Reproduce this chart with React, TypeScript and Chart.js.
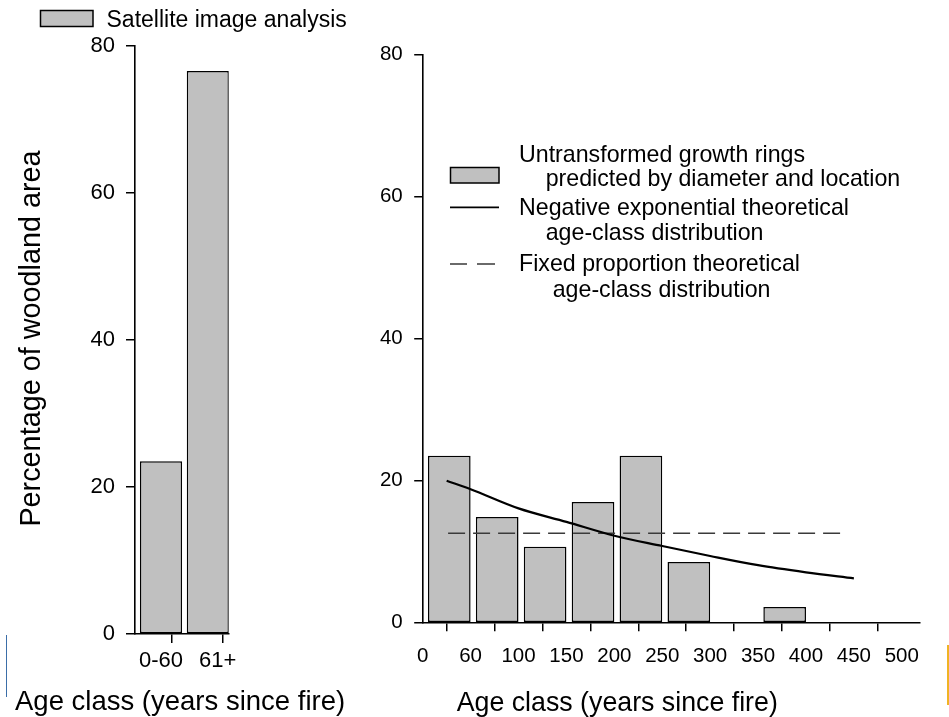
import React, { useEffect, useRef } from 'react';
import { Chart, registerables } from 'chart.js';

Chart.register(...registerables);

const FONT = "'Liberation Sans', Arial, Helvetica, sans-serif";
const BAR_FILL = '#c0c0c0';

// ---------- Left panel data ----------
const leftCategories = ['0-60', '61+'];
const leftValues = [23.5, 76.6];
const leftLegend = 'Satellite image analysis';

// ---------- Right panel data ----------
const rightTickLabels = ['0', '60', '100', '150', '200', '250', '300', '350', '400', '450', '500'];
const rightBarValues = [23.5, 14.9, 10.7, 17.0, 23.5, 8.55, 0, 2.2, 0, 0];
const expX = [0.5, 1, 2, 3, 4, 5, 6, 7, 8, 9];
const expY = [20.0, 18.8, 16.1, 14.2, 12.25, 10.8, 9.4, 8.1, 7.1, 6.25];
const fixedX = [0.53, 8.75];
const fixedY = [12.6, 12.6];
const rightLegendLines = [
  'Untransformed growth rings',
  'predicted by diameter and location',
  'Negative exponential theoretical',
  'age-class distribution',
  'Fixed proportion theoretical',
  'age-class distribution',
];

// ---------- Shared ----------
const yTicks = [0, 20, 40, 60, 80];
const xTitle = 'Age class (years since fire)';
const yTitle = 'Percentage of woodland area';

// layout constants (styling)
const W = 949;
const H = 717;
const BAR_SHIFT = 0.555;
const LEFT_LABEL_NUDGE = [0, 0.21];

const axisBorder = { display: true, color: '#000', width: 1.6 };

function makeLeftConfig(): any {
  const n = leftCategories.length;
  return {
    type: 'bar',
    data: {
      datasets: [
        {
          label: leftLegend,
          data: leftValues.map((v, i) => ({ x: i + BAR_SHIFT, y: v })),
          xAxisID: 'xb',
          backgroundColor: BAR_FILL,
          borderColor: '#000',
          borderWidth: 1.5,
          borderSkipped: false,
          barPercentage: 0.9,
          categoryPercentage: 1,
        },
      ],
    },
    options: {
      responsive: false,
      animation: false,
      events: [],
      layout: { padding: { left: 0, top: 46, right: W - 228.7, bottom: 0 } },
      plugins: { legend: { display: false }, tooltip: { enabled: false } },
      scales: {
        x: {
          type: 'linear',
          position: 'bottom',
          min: 0,
          max: n,
          offset: false,
          afterBuildTicks: (s: any) => {
            const t: any[] = [];
            for (let i = 0; i <= n; i++) {
              t.push({ value: i });
              if (i < n) t.push({ value: i + BAR_SHIFT + LEFT_LABEL_NUDGE[i], lbl: leftCategories[i] });
            }
            s.ticks = t;
          },
          afterFit: (s: any) => {
            s.height = H - 634;
          },
          ticks: {
            autoSkip: false,
            maxRotation: 0,
            minRotation: 0,
            padding: 5,
            color: '#000',
            font: { family: FONT, size: 22 },
            callback: (_v: any, i: number, ticks: any[]) => (ticks[i] && ticks[i].lbl) || '',
          },
          grid: {
            drawOnChartArea: false,
            tickLength: 9,
            tickWidth: 1.5,
            lineWidth: 1.5,
            color: '#000',
            tickColor: (ctx: any) => (ctx.tick && ctx.tick.lbl ? 'rgba(0,0,0,0)' : '#000'),
          },
          border: axisBorder,
        },
        xb: {
          type: 'linear',
          display: false,
          min: 0,
          max: n,
          offset: false,
          afterBuildTicks: (s: any) => {
            const t: any[] = [];
            for (let i = 0; i <= n; i++) t.push({ value: i });
            s.ticks = t;
          },
        },
        y: {
          type: 'linear',
          position: 'left',
          min: 0,
          max: 80,
          afterBuildTicks: (s: any) => {
            s.ticks = yTicks.map((v) => ({ value: v }));
          },
          afterFit: (s: any) => {
            s.width = 135;
          },
          ticks: { padding: 11, color: '#000', font: { family: FONT, size: 22 } },
          grid: { drawOnChartArea: false, tickLength: 9, tickWidth: 1.5, lineWidth: 1.5, color: '#000', tickColor: '#000' },
          border: axisBorder,
        },
      },
    },
    plugins: [
      {
        id: 'leftText',
        afterDraw(chart: any) {
          const c = chart.ctx as CanvasRenderingContext2D;
          c.save();
          c.fillStyle = BAR_FILL;
          c.fillRect(40.5, 10.5, 52.5, 16);
          c.strokeStyle = '#000';
          c.lineWidth = 1.5;
          c.strokeRect(40.5, 10.5, 52.5, 16);
          c.fillStyle = '#000';
          c.textAlign = 'left';
          c.textBaseline = 'alphabetic';
          c.font = `23px ${FONT}`;
          c.fillText(leftLegend, 106.5, 26.7);
          c.font = `27.5px ${FONT}`;
          c.fillText(xTitle, 15, 710);
          c.translate(40, 338.5);
          c.rotate(-Math.PI / 2);
          c.textAlign = 'center';
          c.font = `28.8px ${FONT}`;
          c.fillText(yTitle, 0, 0);
          c.restore();
        },
      },
    ],
  };
}

function makeRightConfig(): any {
  const n = rightTickLabels.length - 1;
  return {
    type: 'bar',
    data: {
      datasets: [
        {
          type: 'line',
          label: 'Negative exponential theoretical age-class distribution',
          data: expX.map((x, i) => ({ x, y: expY[i] })),
          borderColor: '#000',
          borderWidth: 2.2,
          pointRadius: 0,
          fill: false,
          cubicInterpolationMode: 'monotone',
          order: 0,
        },
        {
          type: 'line',
          label: 'Fixed proportion theoretical age-class distribution',
          data: fixedX.map((x, i) => ({ x, y: fixedY[i] })),
          borderColor: '#3a3a3a',
          borderWidth: 1.3,
          borderDash: [17, 8],
          pointRadius: 0,
          fill: false,
          order: 1,
        },
        {
          type: 'bar',
          label: 'Untransformed growth rings predicted by diameter and location',
          data: rightBarValues.map((v, i) => ({ x: i + BAR_SHIFT, y: v })),
          backgroundColor: BAR_FILL,
          borderColor: '#000',
          borderWidth: 1.5,
          borderSkipped: false,
          barPercentage: 0.89,
          categoryPercentage: 1,
          order: 2,
        },
      ],
    },
    options: {
      responsive: false,
      animation: false,
      events: [],
      layout: { padding: { left: 0, top: 54.7, right: W - 920, bottom: 0 } },
      plugins: { legend: { display: false }, tooltip: { enabled: false } },
      scales: {
        x: {
          type: 'linear',
          position: 'bottom',
          min: 0,
          max: 10.38,
          offset: false,
          afterBuildTicks: (s: any) => {
            const t: any[] = [];
            for (let i = 0; i <= n; i++) t.push({ value: i, lbl: rightTickLabels[i] });
            s.ticks = t;
          },
          afterFit: (s: any) => {
            s.height = H - 622.7;
          },
          ticks: {
            autoSkip: false,
            maxRotation: 0,
            minRotation: 0,
            padding: 12.5,
            color: '#000',
            font: { family: FONT, size: 20.5 },
            callback: (_v: any, i: number, ticks: any[]) => (ticks[i] && ticks[i].lbl) || '',
          },
          grid: { drawOnChartArea: false, tickLength: 8.5, tickWidth: 1.5, lineWidth: 1.5, color: '#000', tickColor: '#000' },
          border: axisBorder,
        },
        y: {
          type: 'linear',
          position: 'left',
          min: 0,
          max: 80,
          afterBuildTicks: (s: any) => {
            s.ticks = yTicks.map((v) => ({ value: v }));
          },
          afterFit: (s: any) => {
            s.width = 422.7;
          },
          ticks: { padding: 11.5, color: '#000', font: { family: FONT, size: 20.5 } },
          grid: { drawOnChartArea: false, tickLength: 8.5, tickWidth: 1.5, lineWidth: 1.5, color: '#000', tickColor: '#000' },
          border: axisBorder,
        },
      },
    },
    plugins: [
      {
        id: 'rightText',
        afterDraw(chart: any) {
          const c = chart.ctx as CanvasRenderingContext2D;
          c.save();
          // legend symbols
          c.fillStyle = BAR_FILL;
          c.fillRect(450.5, 167.5, 48.5, 15.5);
          c.strokeStyle = '#000';
          c.lineWidth = 1.5;
          c.strokeRect(450.5, 167.5, 48.5, 15.5);
          c.beginPath();
          c.lineWidth = 1.8;
          c.moveTo(450, 207.3);
          c.lineTo(499, 207.3);
          c.stroke();
          c.beginPath();
          c.strokeStyle = '#3a3a3a';
          c.lineWidth = 1.3;
          c.moveTo(450, 264);
          c.lineTo(467, 264);
          c.moveTo(477, 264);
          c.lineTo(495, 264);
          c.stroke();
          // legend text
          const pos: [number, number][] = [
            [519, 161.7],
            [545.7, 186],
            [519, 215],
            [545.7, 240],
            [519, 271],
            [552.7, 296.7],
          ];
          c.fillStyle = '#000';
          c.textAlign = 'left';
          c.textBaseline = 'alphabetic';
          c.font = `23.2px ${FONT}`;
          rightLegendLines.forEach((t, i) => c.fillText(t, pos[i][0], pos[i][1]));
          c.font = `26.75px ${FONT}`;
          c.fillText(xTitle, 456.7, 710.7);
          c.restore();
        },
      },
    ],
  };
}

export default function App() {
  const leftRef = useRef<HTMLCanvasElement | null>(null);
  const rightRef = useRef<HTMLCanvasElement | null>(null);

  useEffect(() => {
    if (!leftRef.current || !rightRef.current) return;
    const l = new Chart(leftRef.current, makeLeftConfig());
    const r = new Chart(rightRef.current, makeRightConfig());
    return () => {
      l.destroy();
      r.destroy();
    };
  }, []);

  return (
    <div style={{ position: 'absolute', left: 0, top: 0, width: W, height: H, background: '#fff', overflow: 'hidden' }}>
      <canvas ref={leftRef} width={W} height={H} style={{ position: 'absolute', left: 0, top: 0 }} />
      <canvas ref={rightRef} width={W} height={H} style={{ position: 'absolute', left: 0, top: 0 }} />
      <div style={{ position: 'absolute', left: 5.5, top: 635, width: 1.5, height: 62, background: '#3b6ea8' }} />
      <div style={{ position: 'absolute', left: 947, top: 645, width: 2, height: 60, background: '#f0b323' }} />
    </div>
  );
}
